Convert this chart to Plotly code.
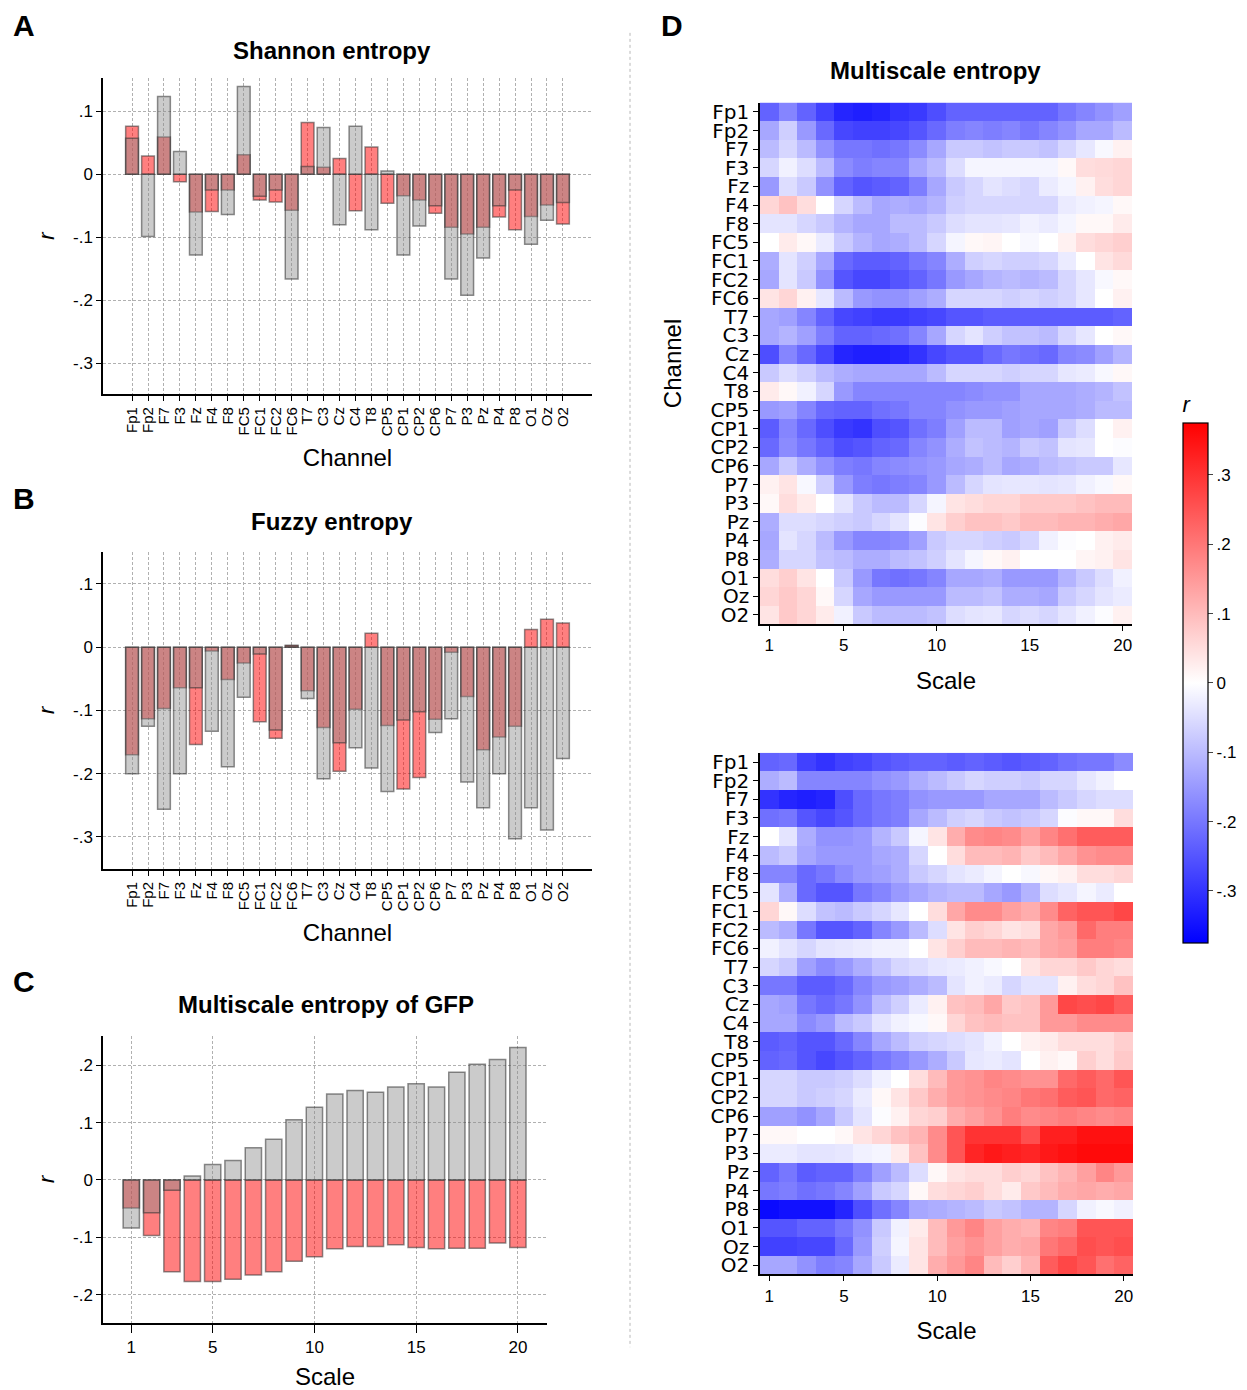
import plotly.graph_objects as go

W, H = 1247, 1390

channels = ["Fp1","Fp2","F7","F3","Fz","F4","F8","FC5","FC1","FC2","FC6","T7","C3","Cz","C4","T8",
            "CP5","CP1","CP2","CP6","P7","P3","Pz","P4","P8","O1","Oz","O2"]

# Panel A: Shannon entropy
shannon_red = [0.076, 0.029, 0.059, -0.012, -0.060, -0.059, -0.025, 0.031, -0.041, -0.044, -0.057, 0.082,
               0.011, 0.025, -0.058, 0.043, -0.046, -0.034, -0.041, -0.062, -0.084, -0.095, -0.084, -0.068,
               -0.088, -0.067, -0.049, -0.079]
shannon_gray = [0.057, -0.099, 0.123, 0.036, -0.128, -0.025, -0.064, 0.139, -0.035, -0.025, -0.166, 0.012,
                0.074, -0.080, 0.076, -0.088, 0.005, -0.128, -0.082, -0.050, -0.166, -0.192, -0.133, -0.050,
                -0.025, -0.111, -0.073, -0.045]

# Panel B: Fuzzy entropy
fuzzy_red = [-0.170, -0.113, -0.097, -0.064, -0.154, -0.006, -0.051, -0.025, -0.118, -0.144, 0.003, -0.069,
             -0.127, -0.196, -0.098, 0.022, -0.124, -0.224, -0.206, -0.114, -0.008, -0.078, -0.162, -0.142,
             -0.125, 0.028, 0.044, 0.038]
fuzzy_gray = [-0.200, -0.125, -0.256, -0.200, -0.064, -0.133, -0.189, -0.079, -0.011, -0.131, 0.002, -0.081,
              -0.208, -0.151, -0.159, -0.191, -0.228, -0.115, -0.102, -0.135, -0.113, -0.213, -0.254, -0.200,
              -0.303, -0.254, -0.289, -0.176]

# Panel C: Multiscale entropy of GFP
scales = list(range(1, 21))
gfp_red = [-0.049, -0.097, -0.160, -0.177, -0.177, -0.173, -0.166, -0.160, -0.142, -0.134,
           -0.120, -0.116, -0.116, -0.113, -0.118, -0.120, -0.119, -0.119, -0.110, -0.118]
gfp_gray = [-0.084, -0.057, -0.018, 0.007, 0.027, 0.034, 0.056, 0.071, 0.105, 0.127,
            0.150, 0.156, 0.153, 0.162, 0.168, 0.162, 0.188, 0.202, 0.210, 0.231]

# Panel D: multiscale entropy heatmaps (rows = channels, cols = scales 1..20)
mse_top = [
 [-0.23,-0.18,-0.23,-0.28,-0.32,-0.33,-0.32,-0.30,-0.29,-0.26,-0.23,-0.23,-0.23,-0.23,-0.23,-0.23,-0.20,-0.18,-0.16,-0.14],
 [-0.13,-0.07,-0.15,-0.22,-0.27,-0.28,-0.28,-0.27,-0.25,-0.22,-0.19,-0.18,-0.19,-0.18,-0.20,-0.18,-0.16,-0.13,-0.13,-0.10],
 [-0.10,-0.06,-0.10,-0.16,-0.20,-0.20,-0.21,-0.20,-0.17,-0.13,-0.08,-0.08,-0.09,-0.08,-0.08,-0.09,-0.06,-0.035,-0.01,0.02],
 [-0.06,-0.02,-0.05,-0.10,-0.17,-0.19,-0.18,-0.18,-0.13,-0.10,-0.05,-0.015,-0.015,-0.015,-0.015,-0.015,0.01,0.05,0.055,0.06],
 [-0.15,-0.05,-0.08,-0.16,-0.23,-0.25,-0.24,-0.23,-0.19,-0.13,-0.08,-0.06,-0.04,-0.05,-0.06,-0.03,-0.015,0.02,0.05,0.06],
 [0.06,0.09,0.05,0.0,-0.06,-0.10,-0.13,-0.12,-0.13,-0.11,-0.07,-0.06,-0.06,-0.06,-0.06,-0.06,-0.03,-0.02,-0.015,0.01],
 [-0.04,-0.04,-0.06,-0.08,-0.11,-0.13,-0.13,-0.10,-0.10,-0.08,-0.05,-0.04,-0.04,-0.035,-0.02,-0.03,-0.015,0.01,0.01,0.03],
 [0.0,0.03,0.01,-0.03,-0.08,-0.11,-0.13,-0.12,-0.10,-0.06,-0.015,0.01,0.015,0.0,-0.01,0.0,0.02,0.05,0.06,0.07],
 [-0.12,-0.04,-0.07,-0.13,-0.22,-0.24,-0.24,-0.23,-0.20,-0.18,-0.12,-0.07,-0.06,-0.07,-0.07,-0.06,-0.03,0.0,0.04,0.055],
 [-0.13,-0.04,-0.08,-0.16,-0.25,-0.27,-0.27,-0.25,-0.23,-0.20,-0.15,-0.13,-0.11,-0.10,-0.11,-0.10,-0.06,-0.035,-0.01,0.01],
 [0.04,0.06,0.02,-0.035,-0.10,-0.15,-0.16,-0.16,-0.14,-0.12,-0.06,-0.06,-0.06,-0.07,-0.06,-0.07,-0.06,-0.035,0.0,0.02],
 [-0.13,-0.14,-0.18,-0.23,-0.27,-0.28,-0.29,-0.29,-0.28,-0.27,-0.25,-0.25,-0.24,-0.24,-0.24,-0.24,-0.24,-0.24,-0.24,-0.23],
 [-0.13,-0.11,-0.14,-0.19,-0.23,-0.23,-0.22,-0.21,-0.18,-0.13,-0.06,-0.04,-0.07,-0.09,-0.09,-0.10,-0.06,-0.035,0.0,0.01],
 [-0.26,-0.18,-0.22,-0.27,-0.32,-0.33,-0.33,-0.32,-0.30,-0.27,-0.25,-0.25,-0.22,-0.20,-0.21,-0.22,-0.18,-0.17,-0.14,-0.11],
 [-0.08,-0.05,-0.07,-0.10,-0.12,-0.13,-0.13,-0.13,-0.13,-0.10,-0.06,-0.06,-0.06,-0.07,-0.06,-0.06,-0.035,-0.03,-0.01,0.01],
 [0.03,0.01,-0.02,-0.06,-0.15,-0.18,-0.18,-0.18,-0.18,-0.18,-0.18,-0.17,-0.16,-0.16,-0.13,-0.13,-0.13,-0.12,-0.11,-0.09],
 [-0.15,-0.14,-0.18,-0.22,-0.23,-0.23,-0.21,-0.20,-0.18,-0.18,-0.16,-0.15,-0.15,-0.14,-0.13,-0.13,-0.13,-0.12,-0.10,-0.10],
 [-0.24,-0.18,-0.22,-0.26,-0.29,-0.30,-0.26,-0.25,-0.21,-0.19,-0.14,-0.10,-0.10,-0.14,-0.13,-0.14,-0.08,-0.05,0.0,0.02],
 [-0.22,-0.17,-0.20,-0.23,-0.26,-0.25,-0.23,-0.22,-0.18,-0.16,-0.12,-0.09,-0.10,-0.11,-0.08,-0.09,-0.04,-0.035,0.0,-0.005],
 [-0.13,-0.08,-0.12,-0.16,-0.19,-0.20,-0.18,-0.17,-0.16,-0.15,-0.13,-0.12,-0.10,-0.13,-0.12,-0.10,-0.09,-0.08,-0.08,-0.035],
 [0.02,0.04,-0.01,-0.07,-0.15,-0.19,-0.20,-0.19,-0.18,-0.15,-0.10,-0.06,-0.04,-0.035,-0.035,-0.04,-0.035,-0.02,-0.01,0.01],
 [0.01,0.05,0.03,0.0,-0.04,-0.08,-0.10,-0.10,-0.06,-0.015,0.04,0.05,0.06,0.06,0.08,0.08,0.08,0.09,0.10,0.10],
 [-0.12,-0.05,-0.05,-0.06,-0.07,-0.08,-0.06,-0.04,-0.005,0.04,0.07,0.09,0.09,0.08,0.10,0.10,0.11,0.11,0.12,0.13],
 [-0.13,-0.04,-0.06,-0.10,-0.15,-0.18,-0.18,-0.17,-0.14,-0.08,-0.06,-0.06,-0.07,-0.08,-0.06,-0.02,-0.005,0.0,0.02,0.03],
 [-0.12,-0.06,-0.06,-0.09,-0.10,-0.12,-0.12,-0.10,-0.09,-0.07,-0.04,-0.015,0.01,0.02,0.0,0.0,0.0,0.015,0.02,0.04],
 [0.05,0.07,0.04,0.0,-0.08,-0.15,-0.20,-0.21,-0.20,-0.18,-0.13,-0.13,-0.12,-0.15,-0.15,-0.15,-0.11,-0.08,-0.05,-0.02],
 [0.06,0.08,0.06,0.01,-0.06,-0.13,-0.15,-0.15,-0.15,-0.15,-0.10,-0.10,-0.09,-0.12,-0.12,-0.13,-0.08,-0.06,-0.04,-0.03],
 [0.04,0.08,0.06,0.03,-0.02,-0.08,-0.10,-0.10,-0.10,-0.09,-0.05,-0.04,-0.035,-0.06,-0.05,-0.06,-0.04,-0.02,-0.005,0.02],
]

mse_bottom = [
 [-0.23,-0.22,-0.28,-0.30,-0.28,-0.27,-0.25,-0.24,-0.23,-0.23,-0.24,-0.23,-0.24,-0.25,-0.24,-0.23,-0.21,-0.20,-0.20,-0.17],
 [-0.12,-0.10,-0.18,-0.18,-0.18,-0.18,-0.16,-0.15,-0.12,-0.10,-0.08,-0.06,-0.07,-0.07,-0.08,-0.06,-0.06,-0.035,-0.02,0.0],
 [-0.30,-0.32,-0.33,-0.32,-0.26,-0.22,-0.20,-0.19,-0.16,-0.15,-0.15,-0.15,-0.13,-0.13,-0.13,-0.10,-0.08,-0.06,-0.05,-0.05],
 [-0.21,-0.20,-0.25,-0.27,-0.25,-0.22,-0.20,-0.19,-0.13,-0.10,-0.07,-0.06,-0.08,-0.09,-0.08,-0.06,-0.005,0.01,0.01,0.05],
 [0.0,-0.04,-0.12,-0.16,-0.16,-0.15,-0.11,-0.08,-0.015,0.04,0.12,0.17,0.18,0.17,0.14,0.18,0.21,0.24,0.24,0.24],
 [-0.10,-0.08,-0.13,-0.15,-0.15,-0.15,-0.13,-0.12,-0.06,0.0,0.05,0.10,0.10,0.11,0.08,0.10,0.13,0.16,0.17,0.17],
 [-0.18,-0.18,-0.22,-0.20,-0.17,-0.15,-0.14,-0.12,-0.08,-0.06,-0.04,-0.03,-0.015,0.0,-0.01,0.01,0.02,0.05,0.05,0.06],
 [-0.04,-0.12,-0.22,-0.25,-0.25,-0.20,-0.18,-0.15,-0.13,-0.11,-0.10,-0.10,-0.13,-0.15,-0.11,-0.05,-0.035,-0.015,-0.03,0.0],
 [0.06,0.01,-0.05,-0.09,-0.10,-0.08,-0.06,-0.035,0.0,0.05,0.13,0.17,0.17,0.14,0.12,0.17,0.23,0.25,0.25,0.27],
 [-0.10,-0.12,-0.20,-0.25,-0.25,-0.23,-0.18,-0.15,-0.10,-0.05,0.04,0.07,0.06,0.04,0.05,0.13,0.15,0.22,0.19,0.19],
 [-0.02,-0.04,-0.06,-0.04,-0.035,-0.03,-0.02,-0.02,0.0,0.04,0.07,0.10,0.10,0.11,0.10,0.13,0.14,0.19,0.19,0.18],
 [-0.06,-0.08,-0.14,-0.17,-0.15,-0.12,-0.09,-0.06,-0.05,-0.035,-0.03,-0.02,-0.01,0.0,0.04,0.06,0.06,0.08,0.06,0.05],
 [-0.20,-0.20,-0.24,-0.24,-0.22,-0.18,-0.15,-0.14,-0.12,-0.10,-0.04,-0.02,-0.03,-0.06,-0.04,-0.04,0.02,0.05,0.06,0.09],
 [-0.13,-0.14,-0.20,-0.22,-0.20,-0.16,-0.10,-0.07,-0.03,0.02,0.09,0.10,0.13,0.08,0.09,0.15,0.27,0.26,0.27,0.24],
 [-0.13,-0.13,-0.17,-0.15,-0.10,-0.08,-0.04,-0.02,-0.01,0.01,0.06,0.09,0.10,0.09,0.09,0.15,0.15,0.17,0.17,0.17],
 [-0.24,-0.23,-0.25,-0.25,-0.22,-0.18,-0.13,-0.10,-0.07,-0.06,-0.05,-0.04,-0.02,0.0,0.02,0.03,0.05,0.05,0.05,0.07],
 [-0.23,-0.22,-0.25,-0.27,-0.25,-0.23,-0.20,-0.18,-0.15,-0.12,-0.08,-0.035,-0.03,-0.04,0.0,0.02,0.01,0.07,0.05,0.08],
 [-0.06,-0.06,-0.08,-0.08,-0.07,-0.05,-0.02,0.0,0.05,0.10,0.15,0.16,0.18,0.17,0.16,0.16,0.22,0.24,0.22,0.25],
 [-0.06,-0.06,-0.08,-0.07,-0.06,-0.03,0.01,0.04,0.08,0.12,0.15,0.16,0.17,0.18,0.20,0.21,0.24,0.25,0.22,0.23],
 [-0.14,-0.14,-0.16,-0.13,-0.08,-0.04,-0.005,0.02,0.06,0.07,0.12,0.14,0.16,0.19,0.17,0.18,0.19,0.18,0.17,0.18],
 [0.01,0.01,0.0,0.0,0.01,0.04,0.06,0.09,0.11,0.17,0.25,0.30,0.30,0.30,0.26,0.33,0.33,0.35,0.35,0.35],
 [-0.03,-0.03,-0.04,-0.04,-0.035,-0.02,-0.015,0.03,0.09,0.17,0.25,0.32,0.34,0.33,0.32,0.34,0.35,0.36,0.36,0.36],
 [-0.23,-0.20,-0.24,-0.23,-0.23,-0.19,-0.14,-0.10,-0.05,0.01,0.04,0.05,0.05,0.07,0.06,0.09,0.11,0.14,0.18,0.15],
 [-0.20,-0.19,-0.21,-0.20,-0.18,-0.14,-0.08,-0.06,0.01,0.05,0.06,0.07,0.05,0.03,0.08,0.10,0.12,0.13,0.12,0.13],
 [-0.36,-0.35,-0.35,-0.35,-0.32,-0.26,-0.21,-0.18,-0.13,-0.12,-0.11,-0.10,-0.08,-0.09,-0.11,-0.11,-0.06,-0.02,-0.01,-0.02],
 [-0.25,-0.25,-0.23,-0.23,-0.20,-0.16,-0.08,-0.02,0.03,0.10,0.15,0.18,0.14,0.12,0.11,0.18,0.19,0.25,0.25,0.25],
 [-0.28,-0.28,-0.27,-0.27,-0.22,-0.15,-0.07,-0.015,0.04,0.10,0.14,0.16,0.14,0.12,0.13,0.20,0.22,0.26,0.25,0.26],
 [-0.13,-0.13,-0.16,-0.19,-0.18,-0.13,-0.08,-0.03,0.04,0.12,0.15,0.18,0.10,0.07,0.11,0.24,0.27,0.25,0.21,0.23],
]

bar_ticks = [0.1, 0.0, -0.1, -0.2, -0.3]
bar_ticktext = [".1", "0", "-.1", "-.2", "-.3"]
gfp_ticks = [0.2, 0.1, 0.0, -0.1, -0.2]
gfp_ticktext = [".2", ".1", "0", "-.1", "-.2"]
scale_ticks = [1, 5, 10, 15, 20]
cbar_ticks = [0.3, 0.2, 0.1, 0.0, -0.1, -0.2, -0.3]
cbar_ticktext = [".3", ".2", ".1", "0", "-.1", "-.2", "-.3"]

FONT = "Liberation Sans, Arial, sans-serif"
RED = "rgba(255,0,0,0.5)"
GRAY = "rgba(140,140,140,0.45)"
EDGE = dict(color="rgba(50,50,50,0.55)", width=1.5)
GRID = "#b0b0b0"


def px(x0, x1):
    return [x0 / W, x1 / W]


def py(top, bottom):
    return [1 - bottom / H, 1 - top / H]


fig = go.Figure()


def add_bars(xvals, red, gray, xa, ya, width):
    fig.add_trace(go.Bar(x=xvals, y=red, marker=dict(color=RED, line=EDGE), width=width,
                         xaxis=xa, yaxis=ya, showlegend=False))
    fig.add_trace(go.Bar(x=xvals, y=gray, marker=dict(color=GRAY, line=EDGE), width=width,
                         xaxis=xa, yaxis=ya, showlegend=False))


add_bars(channels, shannon_red, shannon_gray, "x", "y", 0.8)
add_bars(channels, fuzzy_red, fuzzy_gray, "x2", "y2", 0.8)
add_bars(scales, gfp_red, gfp_gray, "x3", "y3", 0.8)

fig.add_trace(go.Heatmap(z=mse_top, x=scales, y=channels, coloraxis="coloraxis",
                         xaxis="x4", yaxis="y4"))
fig.add_trace(go.Heatmap(z=mse_bottom, x=scales, y=channels, coloraxis="coloraxis",
                         xaxis="x5", yaxis="y5"))

tickfont = dict(family=FONT, size=17, color="black")
titlefont = dict(family=FONT, size=24, color="black")

common_ax = dict(showline=True, linecolor="black", linewidth=1.5, ticks="outside", ticklen=5,
                 tickwidth=1.2, tickcolor="black", zeroline=False, mirror=False)
grid_ax = dict(showgrid=True, gridcolor=GRID, gridwidth=0.8, griddash="3px,2px")
n = len(channels)


def chan_xaxis(domain, anchor):
    return dict(domain=domain, anchor=anchor, range=[-1.82, n - 1 + 1.82], type="category",
                tickmode="linear", dtick=1,
                tickangle=-90, tickfont=dict(family=FONT, size=15, color="black"),
                title=dict(text="Channel", font=titlefont, standoff=14),
                **common_ax, **grid_ax)


def r_yaxis(domain, anchor, rng, tv, tt, standoff=12):
    return dict(domain=domain, anchor=anchor, range=rng, tickvals=tv, ticktext=tt,
                tickfont=tickfont,
                title=dict(text="<i>r</i>", font=dict(family=FONT, size=22, color="black"), standoff=standoff),
                **common_ax, **grid_ax)


def chan_yaxis(domain, anchor, with_title):
    d = dict(domain=domain, anchor=anchor, autorange="reversed", type="category",
             tickmode="linear", dtick=1,
             tickfont=dict(family="DejaVu Sans", size=20, color="black"),
             showgrid=False, **common_ax)
    if with_title:
        d["title"] = dict(text="Channel", font=titlefont, standoff=22)
    return d


def scale_xaxis(domain, anchor, standoff):
    return dict(domain=domain, anchor=anchor, range=[0.5, 20.5], tickvals=scale_ticks,
                tickfont=tickfont, title=dict(text="Scale", font=titlefont, standoff=standoff),
                showgrid=False, **common_ax)


fig.update_layout(
    xaxis=chan_xaxis(px(103, 592), "y"),
    yaxis=r_yaxis(py(75, 393), "x", [-0.349, 0.153], bar_ticks, bar_ticktext),
    xaxis2=chan_xaxis(px(103, 592), "y2"),
    yaxis2=r_yaxis(py(551, 870), "x2", [-0.351, 0.151], bar_ticks, bar_ticktext),
    xaxis3=dict(domain=px(103, 547), anchor="y3", range=[-0.39, 21.43], tickvals=scale_ticks,
                tickfont=tickfont, title=dict(text="Scale", font=titlefont, standoff=14),
                ticklen=8, **{k: v for k, v in common_ax.items() if k != "ticklen"}, **grid_ax),
    yaxis3=r_yaxis(py(1037, 1326), "x3", [-0.25, 0.252], gfp_ticks, gfp_ticktext),
    xaxis4=scale_xaxis(px(760, 1132), "y4", 18),
    yaxis4=chan_yaxis(py(100, 624), "x4", True),
    xaxis5=scale_xaxis(px(760, 1133), "y5", 18),
    yaxis5=chan_yaxis(py(753, 1277), "x5", False),
    coloraxis=dict(
        cmin=-0.375, cmax=0.375,
        colorscale=[[0, "rgb(0,0,255)"], [0.5, "rgb(255,255,255)"], [1, "rgb(255,0,0)"]],
        colorbar=dict(x=1173 / W, xanchor="left", y=1 - 944 / H, yanchor="bottom",
                      len=550, lenmode="pixels", thickness=25, thicknessmode="pixels", ypad=0,
                      outlinecolor="black", outlinewidth=1.2,
                      tickvals=cbar_ticks, ticktext=cbar_ticktext, ticks="outside", ticklen=5,
                      tickfont=tickfont,
                      title=dict(text="<i>r</i>", side="top", font=dict(family=FONT, size=22, color="black"))),
    ),
    barmode="overlay",
    width=W, height=H, autosize=False,
    margin=dict(l=0, r=0, t=0, b=0),
    paper_bgcolor="white", plot_bgcolor="white",
    font=dict(family=FONT, color="black"),
)

letters = [("A", 24, 23), ("B", 24, 498), ("C", 24, 983), ("D", 672, 23)]
for txt, x, y in letters:
    fig.add_annotation(text=f"<b>{txt}</b>", x=x / W, y=1 - y / H, xref="paper", yref="paper",
                       showarrow=False, font=dict(family=FONT, size=30, color="black"),
                       xanchor="center", yanchor="middle")

titles = [("Shannon entropy", 332, 48), ("Fuzzy entropy", 332, 521),
          ("Multiscale entropy of GFP", 326, 1006), ("Multiscale entropy", 935, 68)]
for txt, x, y in titles:
    fig.add_annotation(text=f"<b>{txt}</b>", x=x / W, y=1 - y / H, xref="paper", yref="paper",
                       showarrow=False, font=dict(family=FONT, size=24, color="black"),
                       xanchor="center", yanchor="middle")

fig.add_shape(type="line", xref="paper", yref="paper", x0=630 / W, x1=630 / W,
              y0=1 - 30 / H, y1=1 - 1350 / H, line=dict(color="#b8b8b8", width=1, dash="3px,3px"))

fig.write_html("out.html", config={"displayModeBar": False},
               post_script="document.body.style.margin='0';document.body.style.overflow='hidden';")
